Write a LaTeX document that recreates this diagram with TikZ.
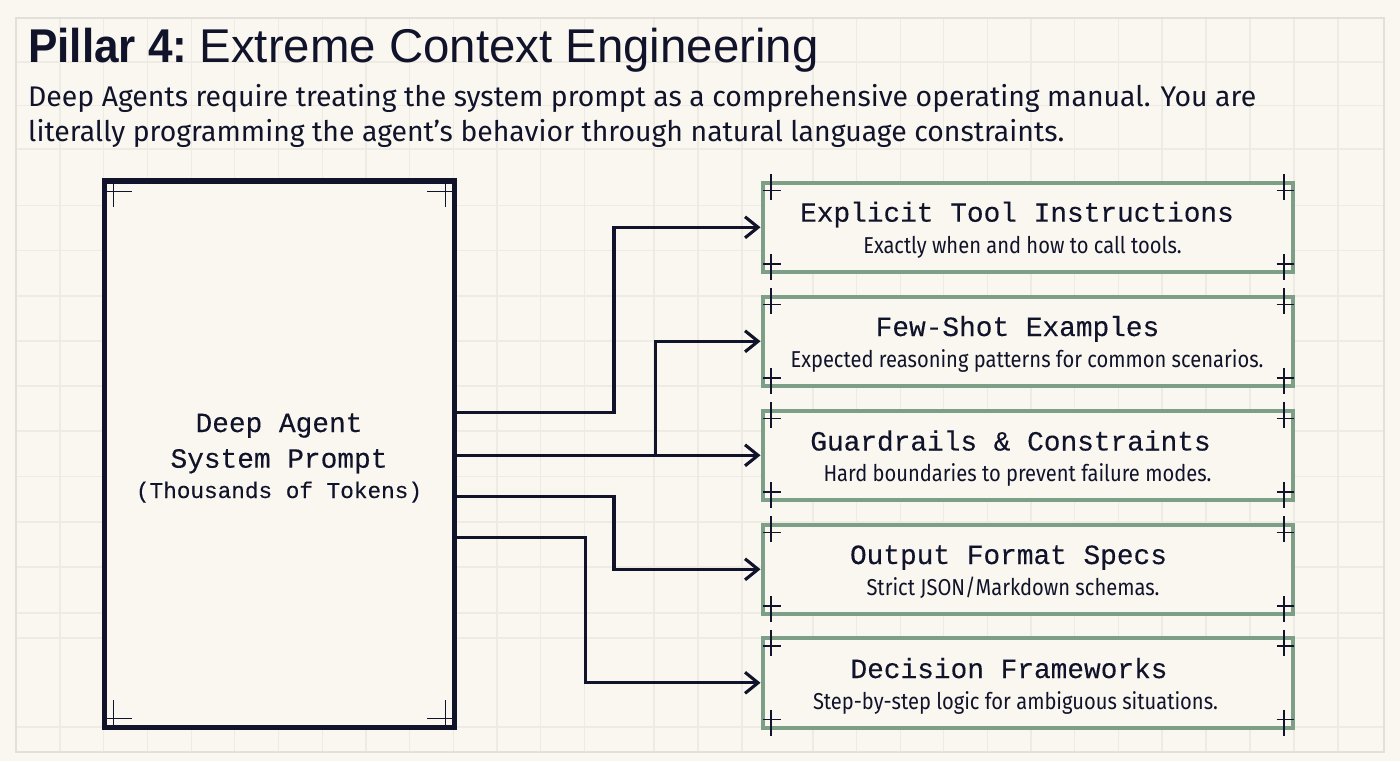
\documentclass[tikz,border=0pt]{standalone}
\usepackage{fontspec}
\usetikzlibrary{arrows.meta}
\setmainfont{Fira Sans}
\newfontfamily\headfont{Liberation Sans}
\newfontfamily\headbold[UprightFont=* Bold,FakeStretch=0.93]{Liberation Sans}
\newfontfamily\monofont[FakeBold=0.25]{Liberation Mono}
\newfontfamily\descfont[FakeStretch=0.875]{Fira Sans}
\definecolor{ink}{HTML}{10132A}
\definecolor{paper}{HTML}{FAF7F0}
\definecolor{gridc}{HTML}{EEEBE4}
\definecolor{framec}{HTML}{E2E0D8}
\definecolor{sage}{HTML}{7D9F88}
\tikzset{
  x=1pt,y=-1pt,
  gridline/.style={draw=gridc,line width=1.2pt},
  mainbox/.style={draw=ink,fill=paper,line width=5.5pt,minimum width=350pt,minimum height=546.5pt,inner sep=0pt,miter limit=10},
  itembox/.style={draw=sage,fill=paper,line width=4pt,minimum width=530pt,minimum height=89.5pt,inner sep=0pt},
  tick/.style={draw=ink,line width=1.2pt},
  conn/.style={draw=ink,line width=3.1pt,-{Straight Barb[length=13pt,width=21pt,line width=3.1pt]}},
  headtext/.style={anchor=base west,inner sep=0pt,text=ink},
  subtext/.style={anchor=base west,inner sep=0pt,text=ink,font=\fontsize{28.4}{32}\selectfont},
  monotitle/.style={anchor=base,inner sep=0pt,text=ink,font=\fontsize{27.8}{32}\selectfont\monofont},
  monosmall/.style={anchor=base,inner sep=0pt,text=ink,font=\fontsize{22.7}{26}\selectfont\monofont},
  desctext/.style={anchor=base,inner sep=0pt,text=ink,font=\fontsize{23}{26}\selectfont\descfont},
}
\begin{document}
\begin{tikzpicture}
\useasboundingbox (0,0) rectangle (1400,761);
\fill[paper] (0,0) rectangle (1400,761);
% grid
\foreach \gx in {60,103.7,147.4,191.1,234.8,278.5,322.2,365.9,409.6,453.3,497,540.7,584.4,654,698,742,813,856.6,900.2,943.8,987.4,1031,1074.6,1118.2,1162,1206,1250,1294,1338}
  \draw[gridline] (\gx,18) -- (\gx,752);
\foreach \gy in {62,105.5,149,205.5,250.5,296,341,386,431,476.5,522,567,613,638,727}
  \draw[gridline] (16,\gy) -- (1384,\gy);
\draw[draw=framec,line width=2pt] (16,18) rectangle (1384,752);
% heading
\node[headtext] (title) at (28,62) {\fontsize{47.4}{52}\selectfont\headfont{\headbold Pillar 4:}\hspace{-5.5pt} Extreme Context Engineering};
\node[subtext] (sub1) at (28,106.7) {Deep Agents require treating the system prompt as a comprehensive operating manual. You are};
\node[subtext] (sub2) at (28,141.7) {literally programming the agent’s behavior through natural language constraints.};
% main box
\node[mainbox] (prompt) at (279.5,454.2) {};
\draw[tick] (prompt.north west) ++(12,5) -- ++(0,24);
\draw[tick] (prompt.north west) ++(5,13) -- ++(25,0);
\draw[tick] (prompt.north east) ++(-12,5) -- ++(0,24);
\draw[tick] (prompt.north east) ++(-5,13) -- ++(-25,0);
\draw[tick] (prompt.south west) ++(12,-5) -- ++(0,-25);
\draw[tick] (prompt.south west) ++(5,-12) -- ++(25,0);
\draw[tick] (prompt.south east) ++(-12,-5) -- ++(0,-25);
\draw[tick] (prompt.south east) ++(-5,-12) -- ++(-25,0);
\node[monotitle] (pa) at (279,432) {Deep Agent};
\node[monotitle] (pb) at (279,467.7) {System Prompt};
\node[monosmall] (pc) at (279,498) {(Thousands of Tokens)};
% item boxes
\node[itembox] (b1) at (1027.5,227.3) {};
\node[itembox] (b2) at (1027.5,341.3) {};
\node[itembox] (b3) at (1027.5,455.3) {};
\node[itembox] (b4) at (1027.5,569.3) {};
\node[itembox] (b5) at (1027.5,682.8) {};
\foreach \b in {b1,b2,b3,b4,b5}{
  \draw[tick] (\b.north west) ++(10.5,-6.5) -- ++(0,26);
  \draw[tick] (\b.north west) ++(2.5,10) -- ++(17.5,0);
  \draw[tick] (\b.north east) ++(-10.5,-6.5) -- ++(0,26);
  \draw[tick] (\b.north east) ++(-18,10) -- ++(17.5,0);
  \draw[tick] (\b.south west) ++(10.5,-20) -- ++(0,26);
  \draw[tick] (\b.south west) ++(2.5,-10) -- ++(17.5,0);
  \draw[tick] (\b.south east) ++(-10.5,-20) -- ++(0,26);
  \draw[tick] (\b.south east) ++(-18,-10) -- ++(17.5,0);
}
\node[monotitle] (t1) at (1017,221.7) {Explicit Tool Instructions};
\node[desctext] (d1) at (1022.5,253.5) {Exactly when and how to call tools.};
\node[monotitle] (t2) at (1017.5,336) {Few-Shot Examples};
\node[desctext] (d2) at (1027,367.5) {Expected reasoning patterns for common scenarios.};
\node[monotitle] (t3) at (1010.5,450.5) {Guardrails \& Constraints};
\node[desctext] (d3) at (1017.5,481.5) {Hard boundaries to prevent failure modes.};
\node[monotitle] (t4) at (1008.5,564) {Output Format Specs};
\node[desctext] (d4) at (1013,595.5) {Strict JSON/Markdown schemas.};
\node[monotitle] (t5) at (1009,678) {Decision Frameworks};
\node[desctext] (d5) at (1015.5,709) {Step-by-step logic for ambiguous situations.};
% connectors
\coordinate (s1) at (457,412.7);
\coordinate (s4) at (457,496.7);
\coordinate (s5) at (457,537.7);
\coordinate (j1) at (614,412.7);
\coordinate (j4) at (614,496.7);
\coordinate (j5) at (585.3,537.7);
\coordinate (j2x) at (655.3,400);
\coordinate (s3) at (prompt.east |- b3.west);
\coordinate (j2) at (j2x |- b3.west);
\draw[conn] (s1) -- (j1) -- (j1 |- b1.west) -- (b1.west);
\draw[conn] (j2) -- (j2 |- b2.west) -- (b2.west);
\draw[conn] (s3) -- (b3.west);
\draw[conn] (s4) -- (j4) -- (j4 |- b4.west) -- (b4.west);
\draw[conn] (s5) -- (j5) -- (j5 |- b5.west) -- (b5.west);
\end{tikzpicture}
\end{document}
